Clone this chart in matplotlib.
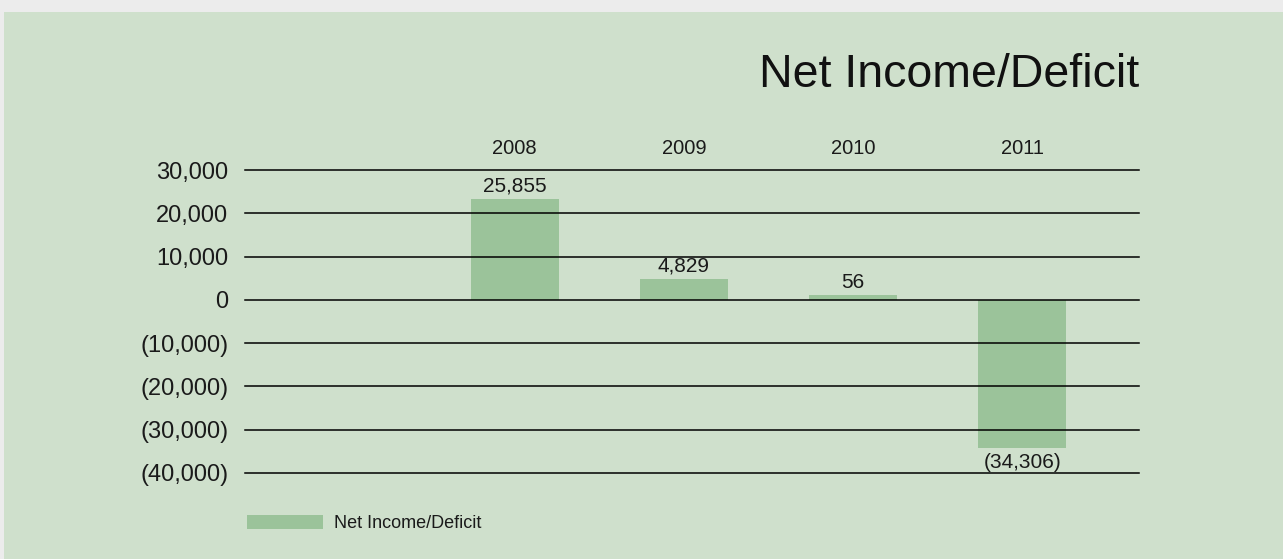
import matplotlib
matplotlib.use("Agg")
import matplotlib.pyplot as plt
from matplotlib.patches import Rectangle
from matplotlib.ticker import FuncFormatter

plt.rcParams['font.family'] = ['Liberation Sans', 'DejaVu Sans']

# data
years = ['2008', '2009', '2010', '2011']
net_income = [25855, 4829, 56, -34306]          # values printed on the bars
bar_heights = [23400, 4830, 1200, -34150]       # bar heights as drawn in the chart
yticks = [30000, 20000, 10000, 0, -10000, -20000, -30000, -40000]

bg = '#cfe0cc'
bar_col = '#9bc39a'
txt = '#1a1a1a'

def fmt(v, pos=None):
    v = int(round(v))
    return f'({abs(v):,})' if v < 0 else f'{v:,}'

fig = plt.figure(figsize=(12.83, 5.59), dpi=100)
fig.patch.set_facecolor('#ececec')
fig.add_artist(Rectangle((4 / 1283, 0), 1, 1 - 12 / 559, transform=fig.transFigure,
                         facecolor=bg, edgecolor='none', zorder=0))

ax = fig.add_axes([245 / 1283, 1 - 473 / 559, 894 / 1283, 303 / 559])
ax.set_facecolor('none')
for s in ax.spines.values():
    s.set_visible(False)

x = list(range(len(years)))
bars = ax.bar(x, bar_heights, width=0.52, color=bar_col, zorder=2, label='Net Income/Deficit')

for t in yticks:
    ax.axhline(t, color='black', lw=1.1, zorder=3, clip_on=False)

ax.set_xlim(-1.595, 3.69)
ax.set_ylim(-40000, 30000)
ax.set_yticks(yticks)
ax.yaxis.set_major_formatter(FuncFormatter(fmt))
ax.tick_params(axis='y', length=0, pad=12, labelsize=17, labelcolor=txt)

ax.xaxis.tick_top()
ax.set_xticks(x, years)
ax.tick_params(axis='x', length=0, pad=9, labelsize=14.5, labelcolor=txt)

for xi, h, v in zip(x, bar_heights, net_income):
    off = 9 if h >= 0 else -11
    ax.annotate(fmt(v), (xi, h), xytext=(0, off), textcoords='offset points',
                ha='center', va='center', fontsize=15, color=txt)

fig.text(1139 / 1283, 1 - 87 / 559, 'Net Income/Deficit', ha='right', va='baseline',
         fontsize=33.5, color='#111111')

fig.legend(handles=[bars], loc='center left', bbox_to_anchor=(247 / 1283, 1 - 523.5 / 559),
           frameon=False, fontsize=13, handlelength=4.2, handleheight=0.85,
           handletextpad=0.6, borderpad=0, borderaxespad=0, labelcolor=txt)

fig.savefig('out.png', dpi=100, facecolor=fig.get_facecolor())
